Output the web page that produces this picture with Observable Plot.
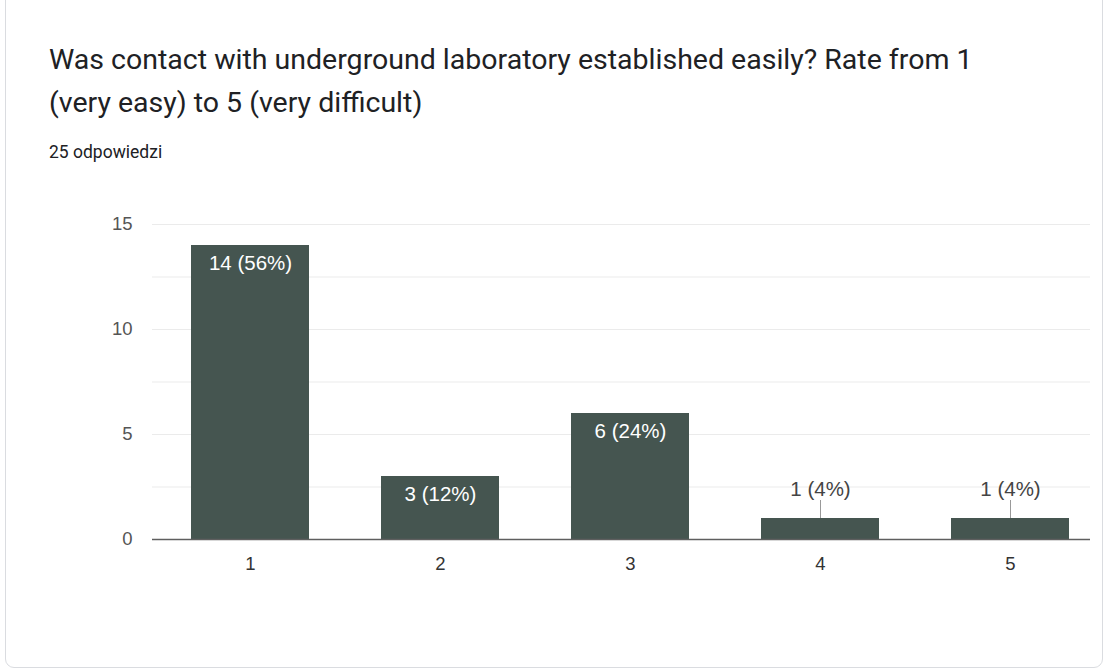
<!DOCTYPE html>
<html>
<head>
<meta charset="utf-8">
<script src="https://cdn.jsdelivr.net/npm/d3@7"></script>
<script src="https://cdn.jsdelivr.net/npm/@observablehq/plot@0.6"></script>
<style>
  html, body { margin: 0; padding: 0; background: #fff; width: 1107px; height: 670px; overflow: hidden; }
  #card { position: absolute; left: 5px; top: -10px; width: 1098px; height: 678px; border: 1px solid #dadce0; border-radius: 9px; box-sizing: border-box; }
  #title { position: absolute; left: 49px; top: 38px; font-family: Roboto, "Noto Sans", sans-serif; font-size: 28.5px; line-height: 43px; color: #202124; }
  #sub { position: absolute; left: 49px; top: 140px; font-family: Roboto, "Noto Sans", sans-serif; font-size: 17.5px; line-height: 24px; color: #202124; }
  #chart { position: absolute; left: 0; top: 190px; }
</style>
</head>
<body>
<div id="card"></div>
<div id="title">Was contact with underground laboratory established easily? Rate from 1<br>(very easy) to 5 (very difficult)</div>
<div id="sub">25 odpowiedzi</div>
<div id="chart"></div>
<script>
const categories = ["1", "2", "3", "4", "5"];
const counts = [14, 3, 6, 1, 1];
const labels = ["14 (56%)", "3 (12%)", "6 (24%)", "1 (4%)", "1 (4%)"];
const yTicks = [0, 5, 10, 15];
const gridValues = [2.5, 5, 7.5, 10, 12.5, 15];

const data = categories.map((c, i) => ({cat: c, count: counts[i], label: labels[i]}));
const inside = data.filter(d => d.count >= 3);
const outside = data.filter(d => d.count < 3);

const chart = Plot.plot({
  width: 1107,
  height: 420,
  marginLeft: 152,
  marginRight: 17,
  marginTop: 34,
  marginBottom: 71,
  style: {fontFamily: "'Liberation Sans', Arial, sans-serif", fontSize: "18px", background: "transparent"},
  x: {domain: categories, range: [118, 1141], padding: 0.38, label: null},
  y: {domain: [0, 15], label: null},
  marks: [
    Plot.ruleY(gridValues, {stroke: "#ebebeb", strokeWidth: 1}),
    Plot.axisY(yTicks, {tickSize: 0, tickPadding: 20, fill: "#555", fontSize: 18.5, label: null}),
    Plot.axisX({tickSize: 0, tickPadding: 17, fill: "#333", fontSize: 18.5, label: null}),
    Plot.barY(data, {x: "cat", y: "count", fill: "#455550"}),
    Plot.text(inside, {x: "cat", y: "count", text: "label", dy: 18, fill: "#fff", fontSize: 20.5}),
    Plot.ruleX(outside, {x: "cat", y1: "count", y2: "count", insetTop: -18, stroke: "#999", strokeWidth: 1}),
    Plot.text(outside, {x: "cat", y: "count", text: "label", dy: -29, fill: "#444", fontSize: 20.5}),
    Plot.ruleY([0], {stroke: "#5f5f5f", strokeWidth: 1.5})
  ]
});
document.getElementById("chart").appendChild(chart);
</script>
</body>
</html>
